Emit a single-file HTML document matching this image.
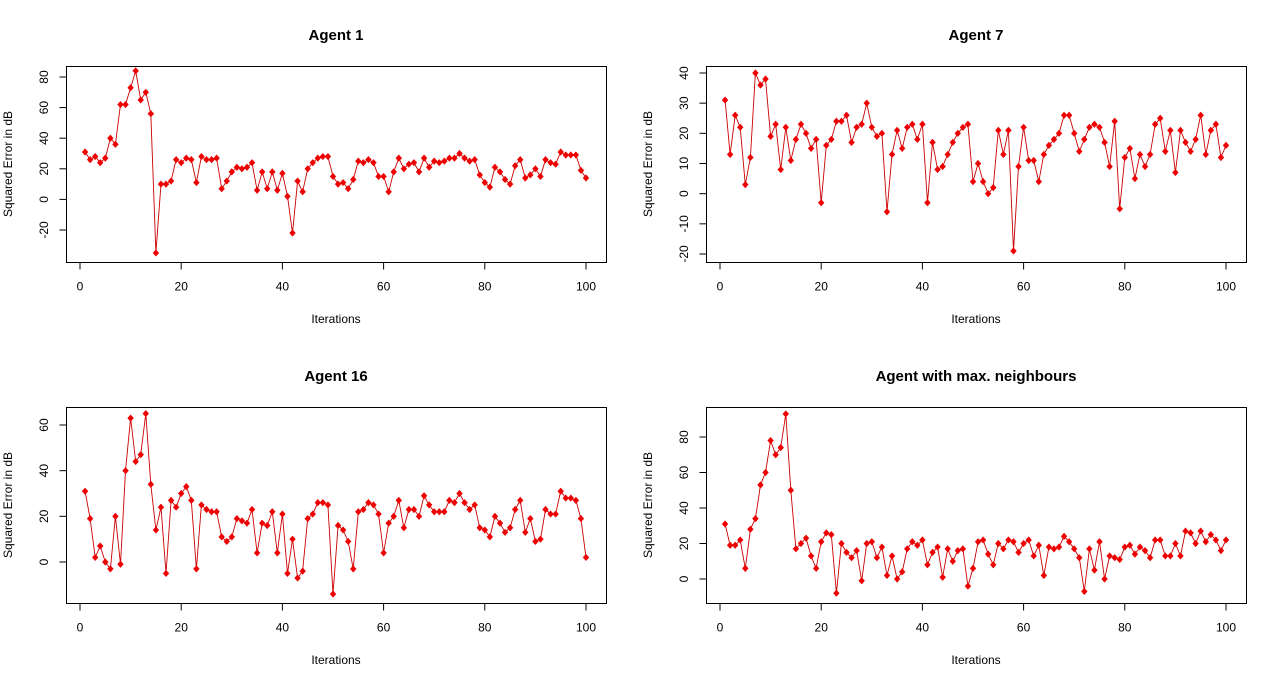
<!DOCTYPE html>
<html><head><meta charset="utf-8"><style>
body{margin:0;background:#fff;}
svg{display:block;font-family:"Liberation Sans",Arial,sans-serif;}
</style></head><body>
<svg id="chart" width="1280" height="683" viewBox="0 0 1280 683" xmlns="http://www.w3.org/2000/svg"></svg>
<script>
const iterations = Array.from({length:100},(_,i)=>i+1);
const titles = ["Agent 1","Agent 7","Agent 16","Agent with max. neighbours"];
const xTicks = [0,20,40,60,80,100];
const yTicks1 = [-20,0,20,40,60,80];
const yTicks2 = [-20,-10,0,10,20,30,40];
const yTicks3 = [0,20,40,60];
const yTicks4 = [0,20,40,60,80];
const agent1 = [31,26,28,24,27,40,36,62,62,73,84,65,70,56,-35,10,10,12,26,24,27,26,11,28,26,26,27,7,12,18,21,20,21,24,6,18,7,18,6,17,2,-22,12,5,20,24,27,28,28,15,10,11,7,13,25,24,26,24,15,15,5,18,27,20,23,24,18,27,21,25,24,25,27,27,30,27,25,26,16,11,8,21,18,13,10,22,26,14,16,20,15,26,24,23,31,29,29,29,19,14];
const agent7 = [31,13,26,22,3,12,40,36,38,19,23,8,22,11,18,23,20,15,18,-3,16,18,24,24,26,17,22,23,30,22,19,20,-6,13,21,15,22,23,18,23,-3,17,8,9,13,17,20,22,23,4,10,4,0,2,21,13,21,-19,9,22,11,11,4,13,16,18,20,26,26,20,14,18,22,23,22,17,9,24,-5,12,15,5,13,9,13,23,25,14,21,7,21,17,14,18,26,13,21,23,12,16];
const agent16 = [31,19,2,7,0,-3,20,-1,40,63,44,47,65,34,14,24,-5,27,24,30,33,27,-3,25,23,22,22,11,9,11,19,18,17,23,4,17,16,22,4,21,-5,10,-7,-4,19,21,26,26,25,-14,16,14,9,-3,22,23,26,25,21,4,17,20,27,15,23,23,20,29,25,22,22,22,27,26,30,26,23,25,15,14,11,20,17,13,15,23,27,13,19,9,10,23,21,21,31,28,28,27,19,2];
const agentMax = [31,19,19,22,6,28,34,53,60,78,70,74,93,50,17,20,23,13,6,21,26,25,-8,20,15,12,16,-1,20,21,12,18,2,13,0,4,17,21,19,22,8,15,18,1,17,10,16,17,-4,6,21,22,14,8,20,17,22,21,15,20,22,13,19,2,18,17,18,24,21,17,12,-7,17,5,21,0,13,12,11,18,19,14,18,16,12,22,22,13,13,20,13,27,26,20,27,21,25,22,16,22];

const NS="http://www.w3.org/2000/svg";
const svg=document.getElementById('chart');
function mk(tag,attrs,parent){const e=document.createElementNS(NS,tag);for(const k in attrs)e.setAttribute(k,attrs[k]);(parent||svg).appendChild(e);return e;}

const panels=[
 {name:'agent-1',data:agent1,yTicks:yTicks1,bx:66,by:66,cx:336,yRef:[80,77,-20,230]},
 {name:'agent-7',data:agent7,yTicks:yTicks2,bx:706,by:66,cx:976,yRef:[40,73,-20,254]},
 {name:'agent-16',data:agent16,yTicks:yTicks3,bx:66,by:407,cx:336,yRef:[60,425,0,562]},
 {name:'agent-max-neighbours',data:agentMax,yTicks:yTicks4,bx:706,by:407,cx:976,yRef:[80,437,0,579]}
];
panels.forEach((p,pi)=>{
 const g=mk('g',{});
 
 
 const W=540,H=196;
 const xS=v=>p.bx+14+v*5.06;
 const [v1,y1,v2,y2]=p.yRef;
 const yS=v=>y1+(v-v1)*(y2-y1)/(v2-v1);
 const box=mk('rect',{x:p.bx+0.5,y:p.by+0.5,width:W,height:H,fill:'none',stroke:'#000','stroke-width':1},g);
 
 
 const t=mk('text',{x:p.cx,y:p.by-26,'text-anchor':'middle','font-size':15,'font-weight':'bold'},g);
 t.textContent=titles[pi];
 
 
 const xl=mk('text',{x:p.cx,y:p.by+257,'text-anchor':'middle','font-size':12},g);
 xl.textContent='Iterations';
 
 
 const yc=p.by+H/2;
 const yl=mk('text',{x:p.bx-54,y:yc,'text-anchor':'middle','font-size':12,transform:`rotate(-90 ${p.bx-54} ${yc})`},g);
 yl.textContent='Squared Error in dB';
 
 
 const by=p.by+H+0.5;
 mk('line',{x1:xS(xTicks[0]),x2:xS(xTicks[xTicks.length-1]),y1:by,y2:by,stroke:'#000'},g);
 xTicks.forEach(v=>{
  mk('line',{x1:xS(v),x2:xS(v),y1:by,y2:by+7,stroke:'#000'},g);
  const tl=mk('text',{x:xS(v),y:by+28,'text-anchor':'middle','font-size':12},g);
  tl.textContent=v;
  
  
 });
 const lx=p.bx+0.5;
 mk('line',{x1:lx,x2:lx,y1:yS(p.yTicks[0]),y2:yS(p.yTicks[p.yTicks.length-1]),stroke:'#000'},g);
 p.yTicks.forEach(v=>{
  mk('line',{x1:lx-7,x2:lx,y1:yS(v),y2:yS(v),stroke:'#000'},g);
  const tx=p.bx-18;
  const tl=mk('text',{x:tx,y:yS(v),'text-anchor':'middle','font-size':12,transform:`rotate(-90 ${tx} ${yS(v)})`},g);
  tl.textContent=v;
  
  
 });
 const pts=p.data.map((v,i)=>xS(iterations[i]).toFixed(1)+','+yS(v).toFixed(1)).join(' ');
 const line=mk('polyline',{points:pts,fill:'none',stroke:'#cc0000','stroke-width':0.9},g);
 
 
 p.data.forEach((v,i)=>{
  const x=xS(iterations[i]),y=yS(v);
  const d=mk('polygon',{points:`${x},${y-3.6} ${x+3.2},${y} ${x},${y+3.6} ${x-3.2},${y}`,fill:'#ee0000'},g);
  
  
 });
});
</script>
</body></html>
